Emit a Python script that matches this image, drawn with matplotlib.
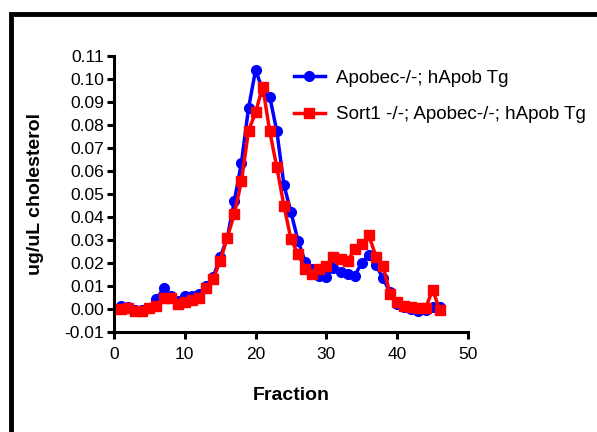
import matplotlib
matplotlib.use("Agg")
import matplotlib.pyplot as plt
from matplotlib.patches import Rectangle
from matplotlib.ticker import FixedLocator, FormatStrFormatter

plt.rcParams['font.family'] = ['Liberation Sans', 'DejaVu Sans']

fractions = list(range(1, 47))
apobec = [0.0015, 0.001, -0.0005, -0.0005, 0.0005, 0.0043, 0.009, 0.0058, 0.0035, 0.0055,
          0.0058, 0.0065, 0.0098, 0.0138, 0.0225, 0.031, 0.047, 0.0636, 0.0873, 0.104,
          0.095, 0.0923, 0.0772, 0.054, 0.042, 0.0296, 0.0205, 0.0173, 0.0144, 0.0141,
          0.018, 0.0159, 0.0152, 0.0144, 0.0202, 0.0234, 0.019, 0.0133, 0.0072, 0.0022,
          0.0007, 0.0, -0.0007, -0.0003, 0.0007, 0.0007]
sort1 = [0.0, 0.0003, -0.0007, -0.0007, 0.0003, 0.0015, 0.005, 0.0046, 0.002, 0.003,
         0.004, 0.005, 0.009, 0.013, 0.021, 0.031, 0.0414, 0.0556, 0.0775, 0.0855,
         0.0967, 0.0772, 0.0616, 0.0450, 0.0303, 0.0238, 0.0176, 0.0152, 0.0176, 0.0188,
         0.0224, 0.0216, 0.0209, 0.026, 0.0281, 0.032, 0.0228, 0.0185, 0.0065, 0.0029,
         0.0014, 0.0007, 0.0003, 0.0003, 0.0084, -0.0003]
label_a = "Apobec-/-; hApob Tg"
label_b = "Sort1 -/-; Apobec-/-; hApob Tg"
xticks = [0, 10, 20, 30, 40, 50]
yticks = [round(-0.01 + 0.01 * i, 2) for i in range(13)]

fig = plt.figure(figsize=(5.97, 4.32), dpi=100)
ax = fig.add_axes([114/597, 1 - 332/432, 354/597, 276/432])

ax.plot(fractions, apobec, color='#0000ff', lw=2.5, marker='o', ms=7, label=label_a, zorder=3)
ax.plot(fractions, sort1, color='#ff0000', lw=2.5, marker='s', ms=7, label=label_b, zorder=4)

ax.set_xlim(0, 50)
ax.set_ylim(-0.01, 0.11)
ax.xaxis.set_major_locator(FixedLocator(xticks))
ax.yaxis.set_major_locator(FixedLocator(yticks))
ax.yaxis.set_major_formatter(FormatStrFormatter('%.2f'))
for s in ['top', 'right']:
    ax.spines[s].set_visible(False)
for s in ['left', 'bottom']:
    ax.spines[s].set_linewidth(2.2)
ax.tick_params(direction='out', length=5, width=2.2, labelsize=12.5)
ax.tick_params(axis='x', pad=6)
ax.tick_params(axis='y', pad=2)
ax.set_xlabel('Fraction', fontsize=14, fontweight='bold', labelpad=18)
ax.set_ylabel('ug/uL cholesterol', fontsize=14, fontweight='bold', labelpad=15)

leg = ax.legend(loc='upper left', bbox_to_anchor=(286/597, 1 - 62/432), bbox_transform=fig.transFigure,
                frameon=False, fontsize=13.5, handlelength=1.7, handletextpad=0.55, labelspacing=1.05,
                borderaxespad=0)

fig.patches.append(Rectangle((10.5/597, -0.2), 1.5, (1 - 13.5/432) + 0.2, transform=fig.transFigure,
                             fill=False, lw=3.5, edgecolor='black', clip_on=False))

fig.savefig('out.png', dpi=100)
